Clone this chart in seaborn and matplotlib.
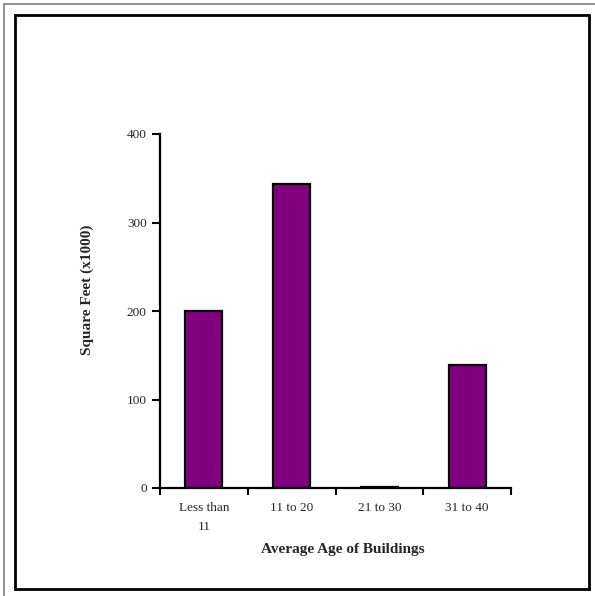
import matplotlib
matplotlib.use("Agg")
import matplotlib.pyplot as plt
from matplotlib.patches import Rectangle
from matplotlib.lines import Line2D
import seaborn as sns
import pandas as pd
import numpy as np

# Square footage by average building age
categories = ["Less than\n11", "11 to 20", "21 to 30", "31 to 40"]
square_feet = [200, 343, 1, 139]
y_ticks = [0, 100, 200, 300, 400]

sns.set_style("white")
plt.rcParams["font.family"] = ["Liberation Serif", "DejaVu Serif"]

df = pd.DataFrame({"age": categories, "sqft": square_feet})

fig = plt.figure(figsize=(5.95, 5.96), dpi=100)
ax = fig.add_axes([160 / 595, 1 - 488 / 596, 351 / 595, 354 / 596])

sns.barplot(data=df, x="age", y="sqft", ax=ax, color="#800080",
            saturation=1, width=0.42, edgecolor="black", linewidth=1.6)

ax.set_xlim(-0.5, len(categories) - 0.5)
ax.set_ylim(0, 400)
ax.set_yticks(y_ticks)
ax.set_yticklabels([str(v) for v in y_ticks], fontsize=9.5)

# major ticks mark category boundaries, minor ticks carry the labels
ax.set_xticks(np.arange(len(categories) + 1) - 0.5)
ax.set_xticklabels([""] * (len(categories) + 1))
ax.set_xticks(np.arange(len(categories)), minor=True)
ax.set_xticklabels(categories, minor=True, fontsize=9.5, linespacing=1.75,
                   va="top")
ax.tick_params(axis="x", which="major", direction="out", length=5,
               width=1.5, color="black", bottom=True)
ax.tick_params(axis="x", which="minor", length=0, pad=10)
ax.tick_params(axis="y", direction="out", length=5.5, width=1.5,
               color="black", left=True, pad=4)

for side in ("top", "right"):
    ax.spines[side].set_visible(False)
for side in ("left", "bottom"):
    ax.spines[side].set_color("black")
    ax.spines[side].set_linewidth(1.6)

ax.set_xlabel("")
ax.set_ylabel("")
fig.text(343 / 595, 1 - 549 / 596, "Average Age of Buildings",
         ha="center", va="center", fontsize=11, fontweight="bold")
fig.text(87 / 595, 1 - 290 / 596, "Square Feet (x1000)",
         ha="center", va="center", rotation=90, fontsize=11,
         fontweight="bold")

# page frames
fig.add_artist(Rectangle((14.5 / 595, 1 - 589 / 596), 574.5 / 595,
                         574.5 / 596, transform=fig.transFigure,
                         fill=False, edgecolor="black", linewidth=2))
fig.add_artist(Line2D([3.5 / 595, 3.5 / 595], [0, 1 - 3.5 / 596],
                      transform=fig.transFigure, color="#808080",
                      linewidth=1.2))
fig.add_artist(Line2D([3.5 / 595, 1], [1 - 3.5 / 596, 1 - 3.5 / 596],
                      transform=fig.transFigure, color="#808080",
                      linewidth=1.2))

fig.savefig("out.png", dpi=100, facecolor="white")
